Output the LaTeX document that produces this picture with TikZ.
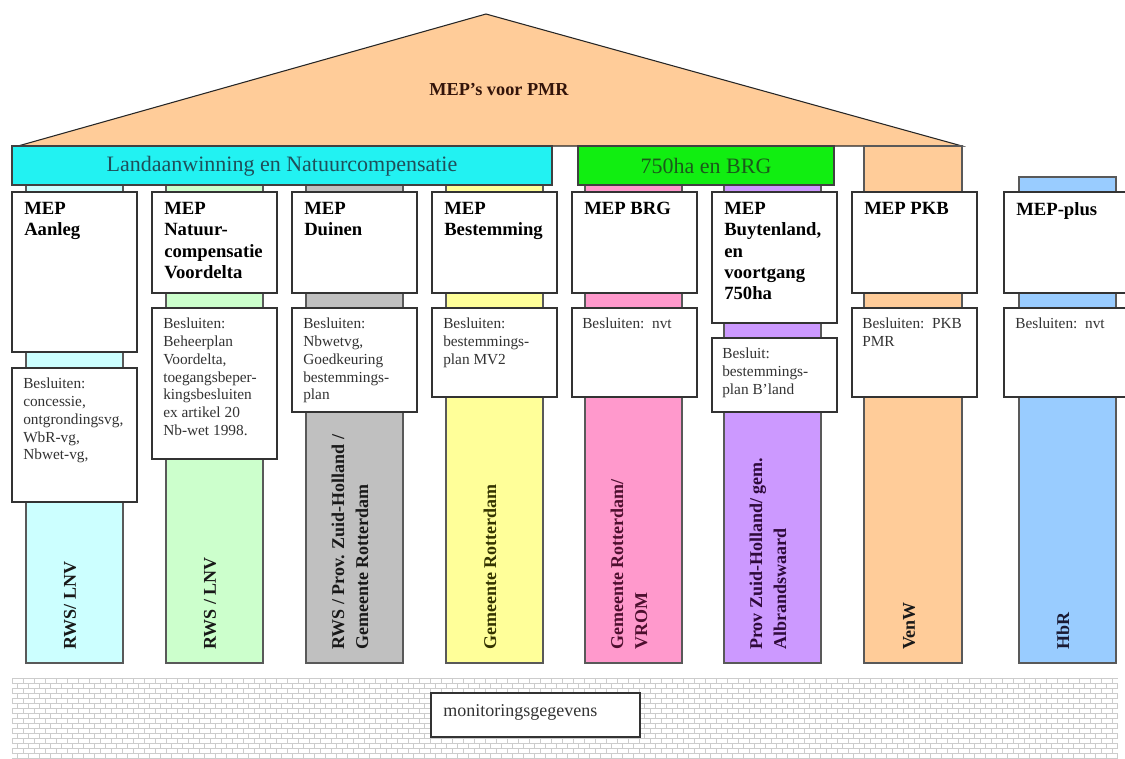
\documentclass[tikz,border=0pt]{standalone}
\usepackage{fontspec}
\setmainfont{Liberation Serif}

\definecolor{roofc}{HTML}{FFCC99}
\definecolor{roofink}{HTML}{33140A}
\definecolor{barcyan}{HTML}{22F2F2}
\definecolor{cyanink}{HTML}{1F4F5A}
\definecolor{bargreen}{HTML}{11EE11}
\definecolor{greenink}{HTML}{1A5A1A}
\definecolor{stripa}{HTML}{CCFFFF}
\definecolor{stripb}{HTML}{CCFFCC}
\definecolor{stripc}{HTML}{C0C0C0}
\definecolor{stripd}{HTML}{FFFF99}
\definecolor{stripe}{HTML}{FF99CC}
\definecolor{stripf}{HTML}{CC99FF}
\definecolor{striph}{HTML}{99CCFF}
\definecolor{inkd}{HTML}{333300}
\definecolor{inke}{HTML}{4D0F2E}
\definecolor{inkf}{HTML}{2E0A3A}
\definecolor{inkh}{HTML}{1A1A33}

\tikzset{
  strip/.style={draw=black!65, line width=0.9pt},
  bar/.style={draw=black!75, line width=0.9pt},
  panel/.style={draw=black!80, fill=white, line width=0.9pt},
  head/.style={anchor=north west, align=left, inner sep=0pt, font=\fontsize{14}{16}\selectfont\bfseries},
  note/.style={anchor=north west, align=left, inner sep=0pt, text=black!80, font=\fontsize{11.5}{13.3}\selectfont},
  who/.style={rotate=90, anchor=west, align=left, inner sep=0pt, text=black!90, font=\fontsize{13.5}{18}\selectfont\bfseries},
  brick/.style={draw=black!20, line width=0.4pt},
}

\begin{document}
\begin{tikzpicture}[x=0.75pt, y=-0.75pt]
\useasboundingbox (0,0) rectangle (1125,758);

% roof
\draw[fill=roofc, draw=black!85, line width=0.8pt] (18,146) -- (486,14) -- (962,146) -- cycle;
\node[font=\fontsize{13.7}{16}\selectfont\bfseries, text=roofink] (roof) at (499,90) {MEP’s voor PMR};

% pillars
\foreach \x/\c in {26/stripa,166/stripb,306/stripc,446/stripd,585/stripe,724/stripf}
  \draw[strip, fill=\c] (\x,184) rectangle ++(97,479);
\draw[strip, fill=roofc] (864,146) rectangle (962,663);
\draw[strip, fill=striph] (1019,177) rectangle (1116,663);

% bars under the roof
\draw[bar, fill=barcyan] (12,146) rectangle (552,185);
\node[font=\fontsize{16.5}{20}\selectfont, text=cyanink] (land) at (282,166) {Landaanwinning en Natuurcompensatie};
\draw[bar, fill=bargreen] (578,146) rectangle (834,185);
\node[font=\fontsize{16.5}{20}\selectfont, text=greenink] (brg) at (706,166) {750ha en BRG};

% MEP panels
\draw[panel] (12,192) rectangle ++(125,160);
\node[head] (aanleg) at (24,202) {MEP\\Aanleg};
\draw[panel] (152,192) rectangle ++(125,101);
\node[head] (natuur) at (164,202) {MEP\\Natuur-\\compensatie\\Voordelta};
\draw[panel] (292,192) rectangle ++(125,101);
\node[head] (duinen) at (304,202) {MEP\\Duinen};
\draw[panel] (432,192) rectangle ++(125,101);
\node[head] (bestem) at (444,202) {MEP\\Bestemming};
\draw[panel] (572,192) rectangle ++(125,101);
\node[head] (mepbrg) at (584,202) {MEP BRG};
\draw[panel] (712,192) rectangle ++(125,131);
\node[head] (buyten) at (724,202) {MEP\\Buytenland,\\en\\voortgang\\750ha};
\draw[panel] (852,192) rectangle ++(125,101);
\node[head] (pkb) at (864,202) {MEP PKB};
\draw[panel] (1004,192) rectangle ++(125,101);
\node[head] (plus) at (1016,202) {MEP-plus};

% besluiten
\draw[panel] (12,368) rectangle ++(125,134);
\node[note] (bsa) at (23,378) {Besluiten:\\concessie,\\ontgrondingsvg,\\WbR-vg,\\Nbwet-vg,};
\draw[panel] (152,308) rectangle ++(125,151);
\node[note] (bsb) at (163,318) {Besluiten:\\Beheerplan\\Voordelta,\\toegangsbeper-\\kingsbesluiten\\ex artikel 20\\Nb-wet 1998.};
\draw[panel] (292,308) rectangle ++(125,104);
\node[note] (bsc) at (303,318) {Besluiten:\\Nbwetvg,\\Goedkeuring\\bestemmings-\\plan};
\draw[panel] (432,308) rectangle ++(125,89);
\node[note] (bsd) at (443,318) {Besluiten:\\bestemmings-\\plan MV2};
\draw[panel] (572,308) rectangle ++(125,89);
\node[note] (bse) at (582,318) {Besluiten:\ \ nvt};
\draw[panel] (712,338) rectangle ++(125,74);
\node[note] (bsf) at (722,348) {Besluit:\\bestemmings-\\plan B’land};
\draw[panel] (852,308) rectangle ++(125,89);
\node[note] (bsg) at (862,318) {Besluiten:\ \ PKB\\PMR};
\draw[panel] (1004,308) rectangle ++(125,89);
\node[note] (bsh) at (1015,318) {Besluiten:\ \ nvt};

% who decides
\node[who] (wa) at (70,650) {RWS/ LNV};
\node[who] (wb) at (210,650) {RWS / LNV};
\node[who] (wc) at (350,650) {RWS / Prov. Zuid-Holland /\\Gemeente Rotterdam};
\node[who, text=inkd] (wd) at (490,650) {Gemeente Rotterdam};
\node[who, text=inke] (we) at (629,650) {Gemeente Rotterdam/\\VROM};
\node[who, text=inkf] (wf) at (768,650) {Prov Zuid-Holland/ gem.\\Albrandswaard};
\node[who] (wg) at (909,650) {VenW};
\node[who, text=inkh] (wh) at (1063,650) {HbR};

% foundation
\begin{scope}
\clip (12,678) rectangle (1118,758);
\foreach \r in {0,...,16} {
  \draw[brick] (12,678+5*\r) -- (1118,678+5*\r);
  \pgfmathsetmacro{\off}{mod(\r,2)*5.5}
  \foreach \c in {0,...,101}
    \draw[brick] (12+\off+11*\c,678+5*\r) -- ++(0,5);
}
\end{scope}
\draw[panel] (431,693) rectangle (640,737);
\node[anchor=west, inner sep=0pt, text=black!80, font=\fontsize{13.5}{16}\selectfont] (mon) at (443,712) {monitoringsgegevens};

\end{tikzpicture}
\end{document}
